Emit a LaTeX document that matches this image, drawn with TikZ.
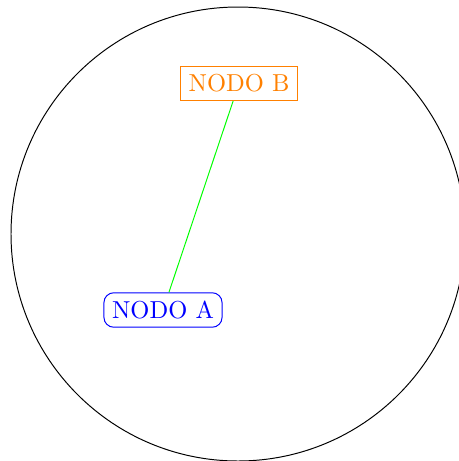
\documentclass[tikz,border=0pt]{standalone}
\begin{document}
\begin{tikzpicture}[x=0.408pt,y=-0.408pt,
  nodeb/.style={draw=orange,text=orange,rectangle},
  nodea/.style={draw=blue,text=blue,rectangle,rounded corners},
  link/.style={draw=green}]
\useasboundingbox (0,0) rectangle (459,461);
\draw (238,234) circle[radius=227];
\node[nodeb] (b) at (239,83.5) {NODO B};
\node[nodea] (a) at (163,310) {NODO A};
\draw[link] (b) -- (a);
\end{tikzpicture}
\end{document}
